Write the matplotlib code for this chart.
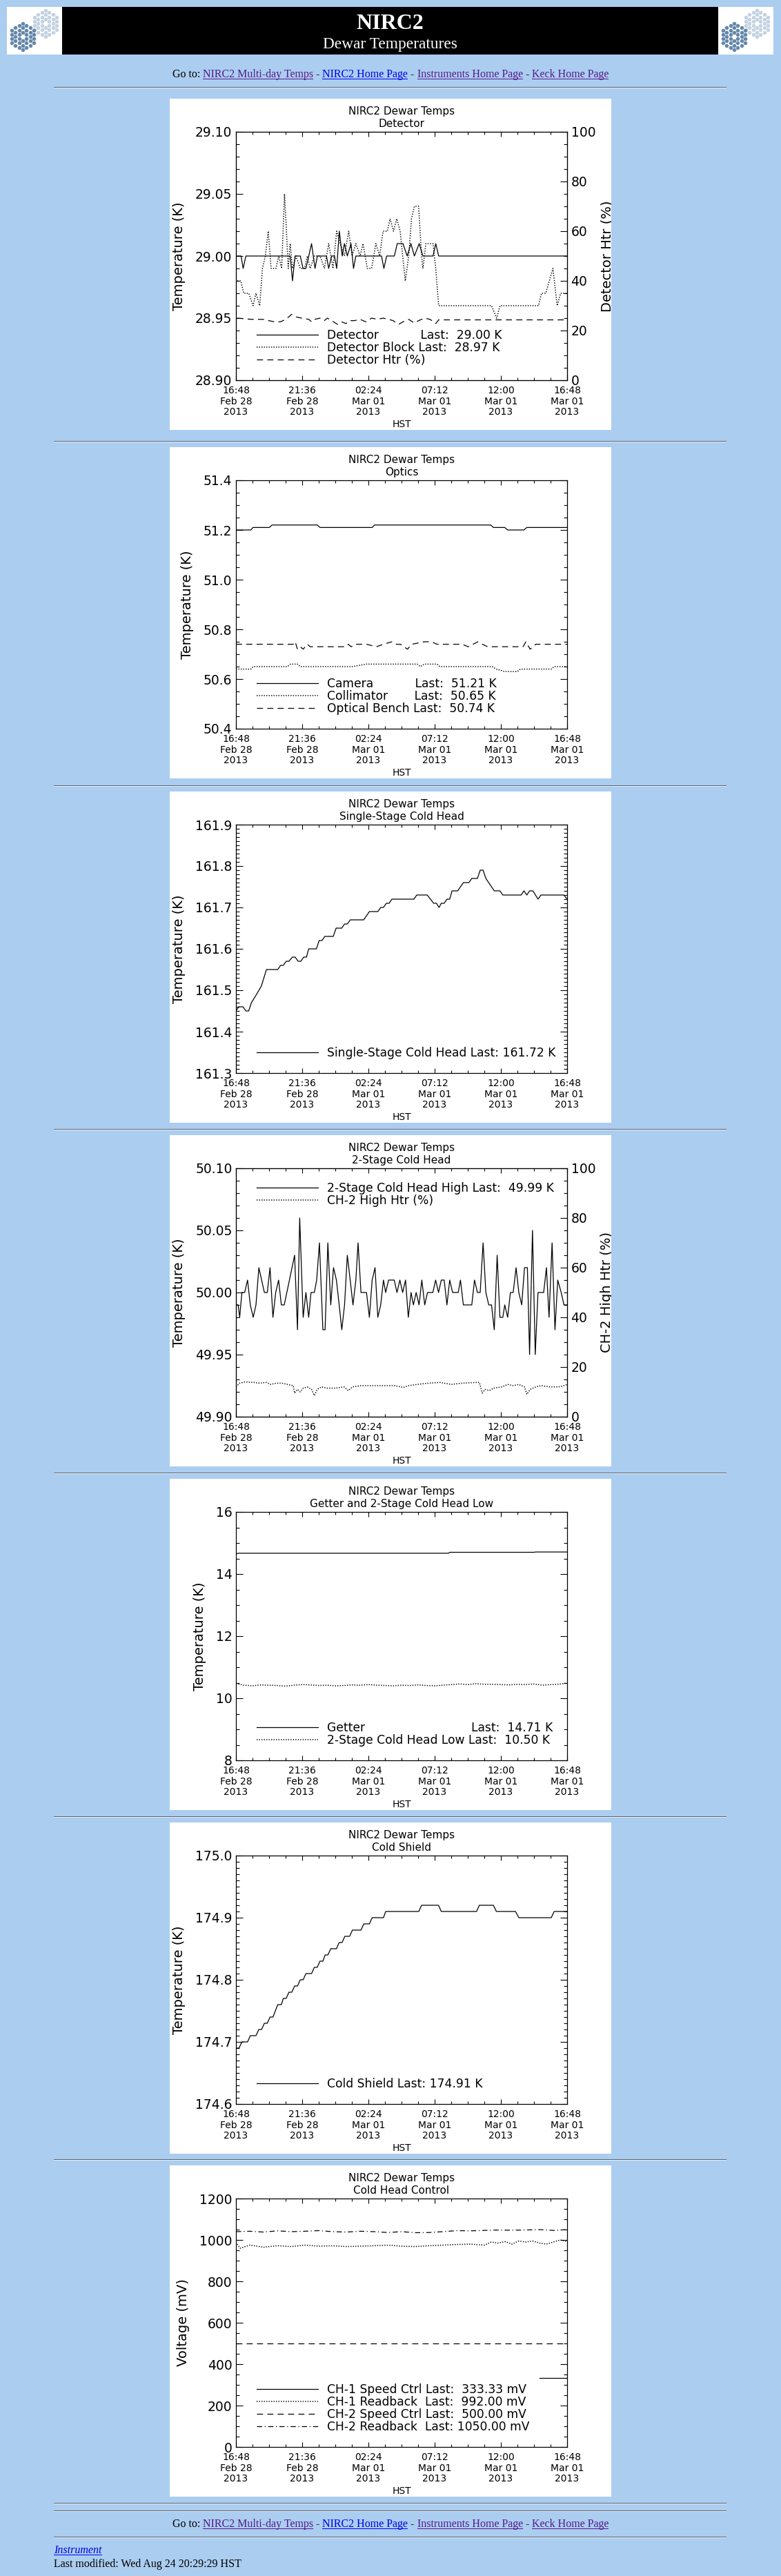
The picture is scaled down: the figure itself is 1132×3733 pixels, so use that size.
import matplotlib
matplotlib.use('Agg')
import matplotlib.pyplot as plt
import matplotlib.transforms as mtransforms
from matplotlib.patches import Rectangle
from matplotlib.ticker import MultipleLocator, FormatStrFormatter

W, H = 1132, 3733
BG = '#abcdf0'
PURPLE = '#551a8b'
BLUE = '#0000ee'

# time axis: hours after 16:48 HST Feb 28 2013
TICK_HOURS = [0, 4.8, 9.6, 14.4, 19.2, 24]
TICK_LABELS = ['16:48\nFeb 28\n2013', '21:36\nFeb 28\n2013', '02:24\nMar 01\n2013',
               '07:12\nMar 01\n2013', '12:00\nMar 01\n2013', '16:48\nMar 01\n2013']

# ---- Detector
det_t = [0.00, 0.37, 0.52, 0.72, 3.93, 4.10, 4.28, 4.66, 4.86, 5.07, 5.48, 5.73, 5.90, 6.56,
         6.72, 6.93, 7.14, 7.30, 7.49, 7.70, 7.86, 8.07, 8.34, 8.52, 8.69, 10.55, 10.72, 10.92,
         11.48, 11.69, 12.10, 12.41, 12.68, 12.93, 13.28, 13.55, 14.28, 14.48, 14.69, 24.00]
det_v = [29.00, 29.00, 28.99, 29.00, 29.00, 28.98, 29.00, 29.00, 28.99, 28.99, 29.01, 28.99,
         29.00, 29.00, 28.99, 29.00, 29.00, 28.99, 29.02, 29.00, 29.01, 29.00, 29.01, 28.99,
         29.00, 29.00, 28.99, 29.00, 29.00, 29.01, 29.01, 29.00, 29.01, 29.00, 29.01, 29.00,
         29.00, 29.01, 29.00, 29.00]
block_t = [0.10, 0.35, 0.56, 0.93, 1.24, 1.45, 1.72, 1.92, 2.13, 2.34, 2.55, 2.90, 3.10, 3.31,
           3.52, 3.66, 3.79, 3.93, 4.10, 4.35, 4.66, 4.97, 5.17, 5.38, 5.69, 6.10, 6.41, 6.72,
           7.03, 7.30, 7.55, 7.86, 8.17, 8.42, 8.69, 9.00, 9.21, 9.52, 9.83, 10.14, 10.41, 10.66,
           10.97, 11.17, 11.42, 11.65, 11.90, 12.27, 12.52, 12.72, 12.93, 13.24, 13.45, 13.55,
           13.76, 14.28, 14.48, 14.69, 18.52, 18.89, 19.14, 21.93, 22.14, 22.45, 22.97, 23.28,
           23.53, 24.00]
block_v = [28.98, 28.98, 28.97, 28.97, 28.96, 28.97, 28.96, 28.99, 29.00, 29.02, 28.99, 28.99,
           29.00, 28.99, 29.05, 29.02, 28.99, 29.01, 28.99, 29.00, 28.99, 28.99, 29.00, 28.99,
           29.00, 29.00, 28.99, 29.01, 28.99, 29.02, 29.01, 29.00, 29.02, 29.00, 29.01, 29.00,
           29.01, 28.99, 28.99, 29.01, 29.00, 29.02, 29.02, 29.03, 29.02, 29.03, 29.02, 28.98,
           29.00, 29.03, 29.04, 29.04, 29.00, 28.99, 29.01, 29.01, 28.99, 28.96, 28.96, 28.95,
           28.96, 28.96, 28.97, 28.97, 28.99, 28.96, 28.97, 28.97]
dhtr_t = [0.10, 1.14, 1.97, 2.38, 2.79, 3.21, 3.62, 4.03, 4.35, 4.76, 5.28, 5.48, 5.69, 6.10,
          6.41, 6.62, 6.93, 7.35, 7.66, 7.97, 8.28, 8.59, 9.00, 9.41, 9.83, 10.24, 10.66, 11.07,
          11.38, 11.79, 12.10, 12.52, 12.93, 13.24, 13.66, 14.07, 14.48, 14.69, 24.00]
dhtr_v = [25.0, 24.5, 24.5, 24.0, 23.5, 23.5, 24.5, 26.5, 25.5, 25.0, 24.5, 23.5, 24.5, 25.0,
          24.0, 25.0, 24.0, 22.5, 23.5, 22.8, 24.0, 24.0, 24.5, 23.5, 25.0, 24.5, 25.0, 24.5,
          24.0, 22.5, 23.5, 24.5, 23.0, 24.0, 25.0, 24.5, 22.8, 24.3, 24.3]

# ---- Optics
cam_t = [0.00, 1.08, 1.23, 2.41, 2.62, 5.89, 6.09, 9.87, 10.04, 18.46, 18.66, 19.48, 19.69,
         20.87, 21.08, 24.00]
cam_v = [51.20, 51.20, 51.21, 51.21, 51.22, 51.22, 51.21, 51.21, 51.22, 51.22, 51.21, 51.21,
         51.20, 51.20, 51.21, 51.21]
col_t = [0.00, 1.08, 1.25, 3.74, 3.95, 4.46, 4.66, 8.44, 9.46, 13.14, 13.35, 13.66, 14.57,
         14.78, 18.56, 18.87, 19.48, 20.40, 20.61, 22.85, 23.06, 24.00]
col_v = [50.64, 50.64, 50.65, 50.65, 50.66, 50.66, 50.65, 50.65, 50.66, 50.66, 50.65, 50.66,
         50.66, 50.65, 50.65, 50.64, 50.63, 50.63, 50.64, 50.64, 50.65, 50.65]
bench_t = [0.00, 4.15, 4.29, 4.46, 4.66, 4.87, 5.17, 5.38, 7.93, 8.14, 8.34, 8.65, 9.46, 10.18,
           10.69, 11.30, 11.61, 11.92, 12.43, 12.74, 13.66, 14.17, 14.57, 16.41, 16.82, 17.54,
           17.85, 18.25, 20.81, 21.01, 21.32, 21.73, 24.00]
bench_v = [50.74, 50.74, 50.75, 50.72, 50.73, 50.72, 50.74, 50.73, 50.73, 50.74, 50.73, 50.74,
           50.74, 50.73, 50.74, 50.75, 50.74, 50.74, 50.72, 50.74, 50.75, 50.75, 50.74, 50.74,
           50.73, 50.75, 50.74, 50.73, 50.73, 50.75, 50.72, 50.74, 50.74]

# ---- Single-stage cold head
ss_t = [0.00, 0.20, 0.51, 0.72, 0.92, 1.12, 1.49, 1.84, 2.21, 3.03, 3.23, 3.43, 3.64, 3.84,
        4.09, 4.29, 4.50, 4.70, 4.91, 5.11, 5.27, 5.83, 6.03, 6.23, 6.44, 7.05, 7.26, 7.67,
        7.87, 8.07, 8.28, 9.26, 9.67, 10.28, 10.49, 10.69, 10.90, 11.10, 11.30, 12.90, 13.10,
        13.86, 14.33, 14.53, 14.72, 14.88, 15.09, 15.29, 15.49, 15.66, 16.07, 16.48, 16.88,
        17.09, 17.50, 17.70, 17.91, 18.11, 18.72, 19.13, 19.34, 20.67, 20.87, 21.08, 21.28,
        21.52, 21.89, 22.10, 23.77, 24.00]
ss_v = [161.45, 161.46, 161.46, 161.45, 161.45, 161.47, 161.49, 161.51, 161.55, 161.55, 161.56,
        161.56, 161.57, 161.57, 161.58, 161.58, 161.57, 161.57, 161.58, 161.58, 161.60, 161.60,
        161.62, 161.62, 161.63, 161.63, 161.65, 161.65, 161.66, 161.66, 161.67, 161.67, 161.69,
        161.69, 161.70, 161.70, 161.71, 161.71, 161.72, 161.72, 161.73, 161.73, 161.71, 161.71,
        161.70, 161.71, 161.71, 161.72, 161.72, 161.74, 161.74, 161.76, 161.76, 161.77, 161.77,
        161.79, 161.79, 161.77, 161.74, 161.74, 161.73, 161.73, 161.74, 161.73, 161.74, 161.74,
        161.72, 161.73, 161.73, 161.72]

# ---- 2-stage cold head high
ch2_t = [0.00, 0.16, 0.27, 0.43, 0.63, 0.84, 1.04, 1.25, 1.45, 1.66, 1.86, 2.06, 2.27, 2.47,
         2.68, 2.88, 3.09, 3.29, 3.50, 4.25, 4.46, 4.62, 4.87, 5.07, 5.27, 5.44, 5.68, 5.85,
         6.05, 6.30, 6.46, 6.66, 6.87, 7.07, 7.28, 7.48, 7.67, 7.87, 8.07, 8.28, 8.48, 8.69,
         8.85, 9.06, 9.46, 9.67, 9.87, 10.08, 10.28, 10.49, 10.69, 10.85, 11.06, 11.47, 11.67,
         11.88, 12.08, 12.29, 12.49, 12.69, 12.86, 13.06, 13.27, 13.47, 13.68, 13.88, 14.27,
         14.47, 14.68, 14.88, 15.09, 15.29, 15.49, 15.70, 16.11, 16.27, 16.48, 17.09, 17.29,
         17.50, 17.70, 17.91, 18.11, 18.32, 18.52, 18.72, 18.93, 19.13, 19.34, 19.48, 19.69,
         19.89, 20.09, 20.30, 20.50, 20.71, 20.91, 21.12, 21.28, 21.49, 21.69, 21.89, 22.10,
         22.30, 22.50, 22.69, 22.91, 23.12, 23.32, 23.57, 23.77, 24.00]
ch2_v = [49.99, 49.99, 49.98, 50.00, 50.00, 50.01, 49.99, 49.98, 49.99, 50.02, 50.01, 50.00,
         50.00, 50.02, 49.98, 50.00, 50.01, 49.99, 49.99, 50.03, 49.97, 50.06, 49.98, 50.00,
         49.98, 50.00, 50.00, 50.01, 50.04, 49.97, 49.97, 50.04, 49.99, 50.02, 50.01, 49.99,
         49.97, 49.99, 50.03, 50.01, 49.99, 50.01, 50.04, 50.00, 50.00, 49.98, 50.01, 50.02,
         49.98, 49.99, 50.01, 50.00, 50.01, 50.01, 50.00, 50.01, 50.00, 50.01, 49.98, 50.00,
         49.99, 50.00, 49.99, 50.01, 49.99, 50.00, 50.00, 50.01, 50.00, 50.01, 50.01, 49.99,
         50.01, 50.00, 50.00, 50.01, 49.99, 49.99, 50.01, 50.00, 50.00, 50.04, 50.00, 49.99,
         49.99, 49.97, 50.03, 49.98, 49.98, 49.99, 49.98, 50.00, 50.00, 50.02, 50.00, 49.99,
         50.02, 50.02, 49.95, 50.05, 49.95, 50.00, 50.00, 50.00, 50.02, 49.98, 50.04, 49.97,
         50.01, 50.00, 49.99, 49.99]
chtr_t = [0.00, 0.27, 0.67, 1.29, 1.70, 2.21, 2.51, 2.92, 3.33, 3.74, 4.15, 4.25, 4.46, 4.66,
          4.87, 5.17, 5.48, 5.68, 5.89, 6.19, 6.60, 7.22, 7.83, 8.14, 8.44, 9.06, 9.87, 10.69,
          11.51, 12.12, 12.53, 13.14, 13.96, 14.78, 15.60, 16.41, 17.44, 17.64, 17.85, 18.05,
          18.36, 18.66, 19.28, 19.69, 20.09, 20.50, 20.91, 21.08, 21.32, 21.73, 22.14, 22.75,
          23.37, 23.77, 24.00]
chtr_v = [12.0, 13.5, 14.0, 13.8, 13.5, 13.8, 13.0, 13.5, 13.5, 13.0, 12.5, 9.5, 11.0, 10.0,
          11.5, 12.0, 11.0, 8.5, 11.0, 12.0, 11.5, 11.5, 12.0, 10.5, 12.0, 12.5, 12.5, 12.5,
          12.5, 11.8, 12.5, 13.0, 13.5, 13.8, 13.0, 13.5, 13.8, 13.8, 9.5, 11.0, 10.5, 11.5,
          12.0, 13.0, 12.5, 13.0, 12.0, 9.0, 11.0, 12.0, 12.5, 12.0, 12.0, 12.5, 13.0]

# ---- Getter and 2-stage cold head low
get_t = [0.0, 0.2, 15.4, 15.5, 21.6, 21.7, 24.0]
get_v = [14.65, 14.67, 14.67, 14.70, 14.70, 14.71, 14.71]
low_t = [0.0, 0.6, 1.2, 1.8, 2.4, 3.0, 3.6, 4.2, 4.8, 5.4, 6.0, 6.6, 7.2, 7.8, 8.4, 9.0, 9.6,
         10.2, 10.8, 11.4, 12.0, 12.6, 13.2, 13.8, 14.4, 15.0, 15.6, 16.2, 16.8, 17.4, 18.0,
         18.6, 19.2, 19.8, 20.4, 21.0, 21.6, 22.2, 22.8, 23.4, 24.0]
low_v = [10.47, 10.42, 10.40, 10.43, 10.42, 10.41, 10.39, 10.42, 10.44, 10.43, 10.41, 10.42,
         10.40, 10.41, 10.43, 10.42, 10.44, 10.42, 10.41, 10.40, 10.42, 10.41, 10.43, 10.41,
         10.40, 10.42, 10.44, 10.46, 10.44, 10.47, 10.45, 10.45, 10.44, 10.43, 10.45, 10.44,
         10.46, 10.42, 10.44, 10.45, 10.49]

# ---- Cold shield
cs_t = [0.00, 0.22, 0.43, 0.84, 1.04, 1.45, 1.66, 1.86, 2.06, 2.27, 2.47, 2.68, 3.03, 3.29,
        3.43, 3.64, 3.84, 4.05, 4.25, 4.46, 4.66, 4.87, 5.07, 5.48, 5.68, 5.89, 6.09, 6.30,
        6.46, 6.66, 6.87, 7.28, 7.48, 7.69, 7.89, 8.24, 8.44, 9.06, 9.26, 9.67, 9.87, 10.69,
        10.85, 13.25, 13.45, 14.68, 14.88, 17.44, 17.64, 18.66, 18.87, 20.26, 20.50, 22.85,
        23.06, 24.00]
cs_v = [174.69, 174.69, 174.70, 174.70, 174.71, 174.71, 174.72, 174.72, 174.73, 174.73, 174.74,
        174.74, 174.76, 174.76, 174.77, 174.77, 174.78, 174.78, 174.79, 174.79, 174.80, 174.80,
        174.81, 174.81, 174.82, 174.82, 174.83, 174.83, 174.84, 174.84, 174.85, 174.85, 174.86,
        174.86, 174.87, 174.87, 174.88, 174.88, 174.89, 174.89, 174.90, 174.90, 174.91, 174.91,
        174.92, 174.92, 174.91, 174.91, 174.92, 174.92, 174.91, 174.91, 174.90, 174.90, 174.91,
        174.91]

# ---- Cold head control (mV)
sp1_t = [22.00, 24.00]
sp1_v = [333.33, 333.33]
rb1_t = [0.0, 0.3, 1.0, 2.0, 3.0, 4.0, 5.0, 6.0, 7.0, 8.0, 9.0, 10.0, 11.0, 12.0, 13.0, 14.0,
         15.0, 16.0, 17.0, 18.0, 18.5, 19.0, 19.5, 20.0, 20.5, 21.0, 21.5, 22.0, 22.5, 23.0,
         23.5, 24.0]
rb1_v = [990, 960, 975, 965, 972, 968, 975, 970, 972, 968, 970, 972, 975, 970, 968, 972, 975,
         978, 980, 975, 990, 985, 992, 980, 995, 990, 995, 985, 980, 990, 1000, 992]
sp2_t = [0.0, 24.0]
sp2_v = [500.0, 500.0]
rb2_t = [0, 1, 2, 3, 4, 5, 6, 7, 8, 9, 10, 11, 12, 13, 14, 15, 16, 17, 18, 19, 20, 21, 22, 23, 24]
rb2_v = [1040, 1042, 1038, 1044, 1040, 1042, 1045, 1040, 1038, 1042, 1040, 1036, 1040, 1035,
         1036, 1040, 1045, 1044, 1046, 1048, 1047, 1048, 1050, 1046, 1050]

SOLID = '-'
DOT = (0, (0.9, 1.4))
DASH = (0, (7, 5))
DASHDOT = (0, (6, 3, 1, 3))

fig = plt.figure(figsize=(W / 100, H / 100), dpi=100, facecolor=BG)
PX = mtransforms.Affine2D().scale(1 / W, -1 / H).translate(0, 1) + fig.transFigure
renderer = fig.canvas.get_renderer()


def box(x, y, w, h, color, z=-1):
    fig.add_artist(Rectangle((x, y), w, h, transform=PX, facecolor=color,
                             edgecolor='none', zorder=z))


def hr(y):
    box(78, y, 975, 1, '#5e636b', z=2)
    box(78, y + 1, 975, 1, '#e6eef7', z=2)


def width_of(s, **kw):
    t = fig.text(0, 0, '|' + s + '|', **kw)
    w1 = t.get_window_extent(renderer).width
    t.set_text('||')
    w2 = t.get_window_extent(renderer).width
    t.remove()
    return w1 - w2


def text_run(pieces, y, x=None, center=None, size=11.5, style='normal'):
    kw = dict(fontsize=size, family='Liberation Serif', style=style)
    widths = [width_of(s, **kw) for s, c, u in pieces]
    x0 = center - sum(widths) / 2 if center is not None else x
    for (s, c, u), w in zip(pieces, widths):
        fig.text(x0, y, s, transform=PX, color=c, va='baseline', ha='left', **kw)
        if u:
            box(x0, y + 2, w, 1, c, z=3)
        x0 += w


GOTO = [('Go to: ', 'black', False), ('NIRC2 Multi-day Temps', PURPLE, True),
        (' - ', 'black', False), ('NIRC2 Home Page', BLUE, True), (' - ', 'black', False),
        ('Instruments Home Page', PURPLE, True), (' - ', 'black', False),
        ('Keck Home Page', PURPLE, True)]


def logo(x0, y0):
    box(x0, y0, 80, 69, 'white')
    lax = fig.add_axes([x0 / W, 1 - (y0 + 69) / H, 80 / W, 69 / H])
    lax.set_xlim(0, 80)
    lax.set_ylim(69, 0)
    lax.set_axis_off()
    for (cx, cy), col in (((56, 24), '#c3d2e1'), ((23, 43), '#6487aa')):
        xs, ys = [], []
        for c in range(-3, 4):
            n = 7 - abs(c)
            for j in range(n):
                if c == 0 and j == 3:
                    continue
                xs.append(cx + c * 5.46)
                ys.append(cy + (j - (n - 1) / 2) * 6.3)
        lax.scatter(xs, ys, s=19, marker='H', color=col, linewidths=0)


PANEL_X = 246
PANEL_TOPS = [143, 648, 1147, 1645, 2143, 2641, 3138]


def panel(top, subtitle, ylim, major, minor, fmt, ylabel='Temperature (K)', mirror=True):
    box(PANEL_X, top, 640, 480, 'white')
    ax = fig.add_axes([(PANEL_X + 96) / W, 1 - (top + 408) / H, 480 / W, 360 / H])
    ax.set_xlim(0, 24)
    ax.set_ylim(*ylim)
    ax.set_xticks(TICK_HOURS, TICK_LABELS, fontsize=10, linespacing=1.12)
    ax.xaxis.set_minor_locator(MultipleLocator(1.2))
    ax.yaxis.set_major_locator(MultipleLocator(major))
    ax.yaxis.set_minor_locator(MultipleLocator(minor))
    ax.yaxis.set_major_formatter(FormatStrFormatter(fmt))
    ax.tick_params(axis='x', which='both', direction='in', top=True, width=0.8, pad=6)
    ax.tick_params(axis='x', which='major', length=5.2)
    ax.tick_params(axis='x', which='minor', length=2.6)
    ax.tick_params(axis='y', which='both', direction='in', right=mirror, width=0.8,
                   labelsize=13.5, pad=4)
    ax.tick_params(axis='y', which='major', length=6.9)
    ax.tick_params(axis='y', which='minor', length=3.5)
    for s in ax.spines.values():
        s.set_linewidth(0.9)
    ax.set_title('NIRC2 Dewar Temps\n' + subtitle, fontsize=11, linespacing=1.25, pad=5)
    ax.set_xlabel('HST', fontsize=10, labelpad=3)
    ax.set_ylabel(ylabel, fontsize=14, labelpad=10)
    return ax


def right_axis(ax, top, label):
    ax2 = ax.twinx()
    ax2.set_ylim(0, 100)
    ax2.yaxis.set_major_locator(MultipleLocator(20))
    ax2.yaxis.set_minor_locator(MultipleLocator(5))
    ax2.tick_params(axis='y', which='both', direction='in', width=0.8, labelsize=13.5, pad=4)
    ax2.tick_params(axis='y', which='major', length=6.9)
    ax2.tick_params(axis='y', which='minor', length=3.5)
    ax2.set_ylabel(label, fontsize=14, labelpad=5)
    clip = mtransforms.TransformedBbox(
        mtransforms.Bbox.from_extents(PANEL_X / W, 1 - (top + 480) / H,
                                      (PANEL_X + 640) / W, 1 - top / H), fig.transFigure)
    ax2.yaxis.label.set_clip_box(clip)
    ax2.yaxis.label.set_clip_on(True)
    return ax2


def legend(ax, handles, labels, upper=False):
    if upper:
        loc, anchor = 'upper left', (30 / 480, 1 - 20 / 360)
    else:
        loc, anchor = 'lower left', (30 / 480, 20 / 360)
    ax.legend(handles, labels, loc=loc, bbox_to_anchor=anchor, frameon=False, fontsize=12.3,
              handlelength=5.2, handletextpad=0.8, labelspacing=0.0, borderpad=0,
              borderaxespad=0)


def trace(ax, t, v, ls):
    lw = 1.1 if ls == DOT else 0.9
    return ax.plot(t, v, color='black', lw=lw, ls=ls)[0]


# ---- page header
logo(10, 10)
logo(1041, 10)
box(90, 10, 951, 69, 'black')
fig.text(565.5, 42, 'NIRC2', transform=PX, color='white', fontsize=23, fontweight='bold',
         family='Liberation Serif', ha='center', va='baseline')
fig.text(565.5, 70, 'Dewar Temperatures', transform=PX, color='white', fontsize=16.8,
         family='Liberation Serif', ha='center', va='baseline')
text_run(GOTO, 112, center=566)
hr(126)
for top in PANEL_TOPS[1:]:
    hr(top - 9)

# 1 Detector
top = PANEL_TOPS[0]
ax = panel(top, 'Detector', (28.90, 29.10), 0.05, 0.01, '%.2f', mirror=False)
ax2 = right_axis(ax, top, 'Detector Htr (%)')
h1 = trace(ax, det_t, det_v, SOLID)
h2 = trace(ax, block_t, block_v, DOT)
h3 = trace(ax2, dhtr_t, dhtr_v, DASH)
legend(ax2, [h1, h2, h3], ['Detector' + ' ' * 11 + 'Last:  29.00 K',
                           'Detector Block Last:  28.97 K', 'Detector Htr (%)'])

# 2 Optics
ax = panel(PANEL_TOPS[1], 'Optics', (50.4, 51.4), 0.2, 0.05, '%.1f')
h1 = trace(ax, cam_t, cam_v, SOLID)
h2 = trace(ax, col_t, col_v, DOT)
h3 = trace(ax, bench_t, bench_v, DASH)
legend(ax, [h1, h2, h3], ['Camera' + ' ' * 11 + 'Last:  51.21 K',
                          'Collimator' + ' ' * 7 + 'Last:  50.65 K',
                          'Optical Bench Last:  50.74 K'])

# 3 Single-stage cold head
ax = panel(PANEL_TOPS[2], 'Single-Stage Cold Head', (161.3, 161.9), 0.1, 0.01, '%.1f')
h1 = trace(ax, ss_t, ss_v, SOLID)
legend(ax, [h1], ['Single-Stage Cold Head Last: 161.72 K'])

# 4 2-stage cold head
top = PANEL_TOPS[3]
ax = panel(top, '2-Stage Cold Head', (49.90, 50.10), 0.05, 0.01, '%.2f', mirror=False)
ax2 = right_axis(ax, top, 'CH-2 High Htr (%)')
h1 = trace(ax, ch2_t, ch2_v, SOLID)
h2 = trace(ax2, chtr_t, chtr_v, DOT)
legend(ax2, [h1, h2], ['2-Stage Cold Head High Last:  49.99 K', 'CH-2 High Htr (%)'],
       upper=True)

# 5 Getter
ax = panel(PANEL_TOPS[4], 'Getter and 2-Stage Cold Head Low', (8, 16), 2, 0.5, '%d')
h1 = trace(ax, get_t, get_v, SOLID)
h2 = trace(ax, low_t, low_v, DOT)
legend(ax, [h1, h2], ['Getter' + ' ' * 28 + 'Last:  14.71 K',
                      '2-Stage Cold Head Low Last:  10.50 K'])

# 6 Cold shield
ax = panel(PANEL_TOPS[5], 'Cold Shield', (174.6, 175.0), 0.1, 0.01, '%.1f')
h1 = trace(ax, cs_t, cs_v, SOLID)
legend(ax, [h1], ['Cold Shield Last: 174.91 K'])

# 7 Cold head control
ax = panel(PANEL_TOPS[6], 'Cold Head Control', (0, 1200), 200, 50, '%d', ylabel='Voltage (mV)')
h1 = trace(ax, sp1_t, sp1_v, SOLID)
h2 = trace(ax, rb1_t, rb1_v, DOT)
h3 = trace(ax, sp2_t, sp2_v, DASH)
h4 = trace(ax, rb2_t, rb2_v, DASHDOT)
legend(ax, [h1, h2, h3, h4], ['CH-1 Speed Ctrl Last:  333.33 mV',
                              'CH-1 Readback  Last:  992.00 mV',
                              'CH-2 Speed Ctrl Last:  500.00 mV',
                              'CH-2 Readback  Last: 1050.00 mV'])

# ---- page footer
hr(3627)
hr(3638)
text_run(GOTO, 3662, center=566)
hr(3676)
text_run([('Instrument', BLUE, True)], 3700, x=78, style='italic')
text_run([('Last modified: Wed Aug 24 20:29:29 HST', 'black', False)], 3720, x=78)

fig.savefig('out.png', dpi=100, facecolor=BG)
